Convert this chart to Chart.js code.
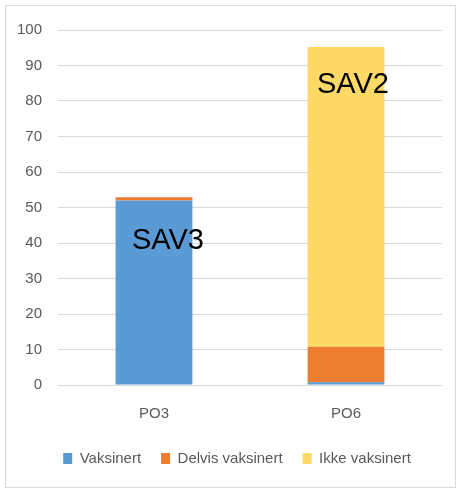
<!DOCTYPE html>
<html>
<head>
<meta charset="utf-8">
<script src="https://cdn.jsdelivr.net/npm/chart.js@4"></script>
<style>
html,body{margin:0;padding:0;background:#fff;}
#wrap{width:458px;height:490px;position:relative;}
</style>
</head>
<body>
<div id="wrap"><canvas id="c" width="458" height="490"></canvas></div>
<script>
const categories = ['PO3', 'PO6'];
const vaksinert = [52, 0.8];
const delvisVaksinert = [0.9, 10];
const ikkeVaksinert = [0, 84.4];
const yTicks = [0, 10, 20, 30, 40, 50, 60, 70, 80, 90, 100];
const annotationTexts = ['SAV3', 'SAV2'];
const annotationValues = [40.7, 84.5];

const FONT = "'Liberation Sans', Arial, sans-serif";

const frame = {
  id: 'frame',
  afterLayout(chart) {
    if (chart.legend) { chart.legend.left += 16; chart.legend.right += 16; }
  },
  beforeDraw(chart) {
    const ctx = chart.ctx;
    ctx.save();
    ctx.fillStyle = '#fff';
    ctx.fillRect(0, 0, chart.width, chart.height);
    ctx.strokeStyle = '#d9d9d9';
    ctx.lineWidth = 1;
    ctx.strokeRect(5.5, 5.5, 450, 482);
    ctx.restore();
  }
};

const annot = {
  id: 'annot',
  afterDatasetsDraw(chart) {
    const ctx = chart.ctx;
    const xs = chart.scales.x, ys = chart.scales.y;
    ctx.save();
    ctx.fillStyle = '#000';
    ctx.font = "29px " + FONT;
    ctx.textAlign = 'center';
    ctx.textBaseline = 'middle';
    const offsets = [14, 7];
    annotationTexts.forEach((t, i) => {
      ctx.fillText(t, xs.getPixelForValue(i) + offsets[i], ys.getPixelForValue(annotationValues[i]));
    });
    ctx.restore();
  }
};

new Chart(document.getElementById('c'), {
  type: 'bar',
  data: {
    labels: categories,
    datasets: [
      { label: 'Vaksinert', data: vaksinert, backgroundColor: '#5b9bd5' },
      { label: 'Delvis vaksinert', data: delvisVaksinert, backgroundColor: '#ed7d31' },
      { label: 'Ikke vaksinert', data: ikkeVaksinert, backgroundColor: '#ffd966' }
    ]
  },
  options: {
    responsive: false,
    animation: false,
    events: [],
    layout: { padding: { top: 30, right: 16, left: 0, bottom: 14 } },
    datasets: { bar: { categoryPercentage: 0.4, barPercentage: 1.0 } },
    scales: {
      x: {
        stacked: true,
        grid: { display: false, drawTicks: false },
        border: { display: false },
        ticks: { color: '#595959', font: { family: FONT, size: 15 }, padding: 20 },
        afterFit(s) { s.height = 46; }
      },
      y: {
        stacked: true,
        min: 0, max: 100,
        afterBuildTicks(s) { s.ticks = yTicks.map(v => ({ value: v })); },
        grid: { color: '#d9d9d9', drawTicks: false, lineWidth: 1 },
        border: { display: false },
        ticks: { color: '#595959', font: { family: FONT, size: 15 }, padding: 16 },
        afterFit(s) { s.width = 58; }
      }
    },
    plugins: {
      legend: {
        position: 'bottom',
        labels: { color: '#595959', font: { family: FONT, size: 15 }, boxWidth: 9, boxHeight: 11, padding: 20, useBorderRadius: false }
      },
      tooltip: { enabled: false }
    }
  },
  plugins: [frame, annot]
});
</script>
</body>
</html>
